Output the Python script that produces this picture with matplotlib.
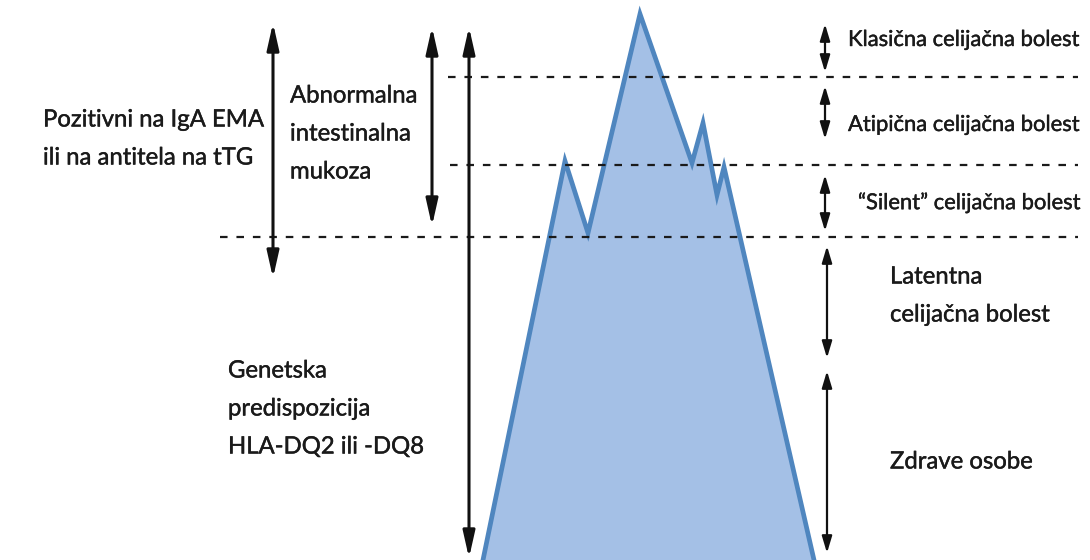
import matplotlib
matplotlib.use("Agg")
import matplotlib.pyplot as plt
from matplotlib import font_manager
import matplotlib.patheffects as pe

# ---------------- data (pixel coordinates of the diagram) ----------------
iceberg_x = [483, 565, 588, 640, 692, 703, 717, 724, 814]
iceberg_y = [560, 161, 233, 14, 163, 123, 195, 167, 560]

level_y = [77, 165, 237]            # dashed boundary levels
level_x0 = [448, 450, 220]          # where each dashed line starts
level_x1 = [1078, 1078, 1078]

# vertical double arrows: x, top, bottom
arrow_x = [273, 432, 469, 825, 825, 825, 827, 827]
arrow_top = [23, 27, 27, 24, 86, 175, 246, 371]
arrow_bottom = [278, 226, 558, 72, 139, 231, 358, 553]
arrow_big = [True, True, True, False, False, False, False, False]

labels = [
    "Pozitivni na IgA EMA\nili na antitela na tTG",
    "Abnormalna\nintestinalna\nmukoza",
    "Genetska\npredispozicija\nHLA-DQ2 ili -DQ8",
    "Klasična celijačna bolest",
    "Atipična celijačna bolest",
    "\u201cSilent\u201d celijačna bolest",
    "Latentna\ncelijačna bolest",
    "Zdrave osobe",
]
label_x = [43, 290, 228, 848, 848, 858, 890, 890]
label_y = [120, 96, 371, 40, 125, 203, 277, 462]
label_small = [False, False, False, True, True, True, False, False]

# ---------------- style ----------------
def pick_font(cands):
    for c in cands:
        try:
            font_manager.findfont(font_manager.FontProperties(family=c),
                                  fallback_to_default=False)
            return c
        except Exception:
            pass
    return "DejaVu Sans"

FONT = pick_font(["Lato", "Open Sans", "DejaVu Sans"])
plt.rcParams["font.family"] = [FONT, "DejaVu Sans"]

W, H = 1090, 560
fig = plt.figure(figsize=(W / 100, H / 100), dpi=100)
ax = fig.add_axes([0, 0, 1, 1])
ax.set_xlim(0, W)
ax.set_ylim(H, 0)
ax.axis("off")

# iceberg
ax.fill(iceberg_x, iceberg_y, facecolor="#a4c0e6", edgecolor="none", zorder=1)
ax.plot(iceberg_x, iceberg_y, color="#4f86bf", lw=3.4, solid_joinstyle="miter",
        zorder=2)

# dashed levels
for y, x0, x1 in zip(level_y, level_x0, level_x1):
    ax.plot([x0, x1], [y, y], color="#1a1a1a", lw=1.6, dashes=(3.4, 4.0),
            zorder=3)

# arrows
for x, t, b, big in zip(arrow_x, arrow_top, arrow_bottom, arrow_big):
    if big:
        style = "<|-|>,head_length=16,head_width=3.6"
        lw = 2.2
    else:
        style = "<|-|>,head_length=10,head_width=3.0"
        lw = 1.6
    ax.annotate("", xy=(x, t), xytext=(x, b),
                arrowprops=dict(arrowstyle=style, color="#111111", lw=lw,
                                shrinkA=0, shrinkB=0, mutation_scale=1),
                zorder=4)

# labels (one line every 38 px)
semi = [pe.withStroke(linewidth=0.3, foreground="#1a1a1a")]
for txt, x, y, small in zip(labels, label_x, label_y, label_small):
    size = 15.8 if small else 17.2
    for i, line in enumerate(txt.split("\n")):
        ax.text(x, y + i * 38, line, fontsize=size, color="#1a1a1a",
                ha="left", va="center", zorder=5, path_effects=semi)

fig.savefig("out.png", dpi=100, facecolor="white")
